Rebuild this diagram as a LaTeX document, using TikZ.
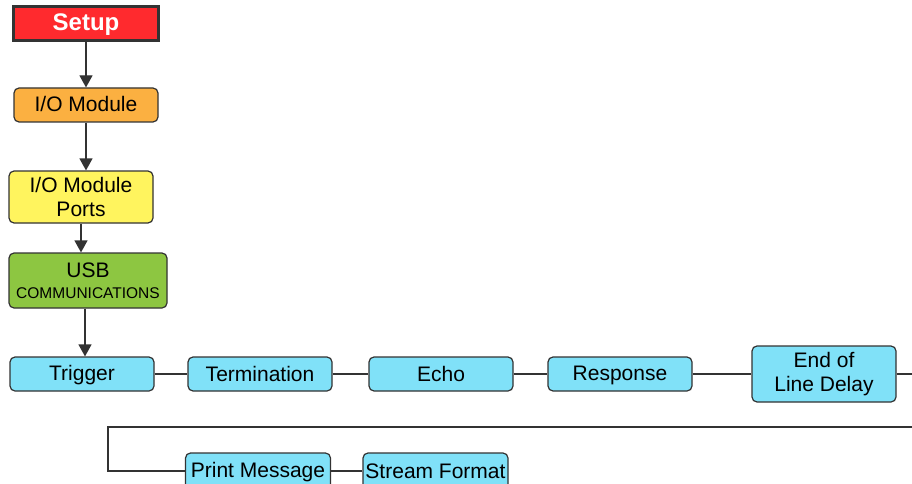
\documentclass[tikz,border=0pt]{standalone}
\usepackage{fontspec}
\setmainfont{Liberation Sans}
\usetikzlibrary{arrows.meta,calc}
\definecolor{cred}{HTML}{FF2A2E}
\definecolor{corange}{HTML}{FBB041}
\definecolor{cyellow}{HTML}{FFF45E}
\definecolor{cgreen}{HTML}{8DC641}
\definecolor{ccyan}{HTML}{80E1F8}
\definecolor{cedge}{HTML}{333333}
\newcommand\bstrut{\rule[-3pt]{0pt}{20pt}}
\tikzset{
  box/.style={draw=cedge, line width=1.2pt, rounded corners=5pt, minimum width=144pt,
    minimum height=34pt, inner sep=0pt, align=center, font=\fontsize{21}{24.5}\selectfont, text=black},
  conn/.style={draw=cedge, line width=1.2pt},
  arr/.style={conn, -{Triangle[length=12pt,width=13pt]}}
}
\begin{document}
\begin{tikzpicture}[x=1pt,y=-1pt]
\useasboundingbox (0,0) rectangle (912,484);
\clip (0,0) rectangle (912,484);
\fill[white] (0,0) rectangle (912,484);
\node[draw=cedge, line width=2.5pt, fill=cred, minimum width=145pt, minimum height=34pt, inner sep=0pt,
  font=\fontsize{24}{27}\selectfont\bfseries, text=white] (setup) at (86,23.5) {\rule[-1pt]{0pt}{20pt}Setup};
\node[box, fill=corange] (iom) at (86,105) {\bstrut I/O Module};
\node[box, fill=cyellow, minimum height=52pt] (ports) at (81,197) {I/O Module\\Ports};
\node[box, fill=cgreen, minimum width=158pt, minimum height=55pt] (usb) at (88,280.5) {USB\\[-4pt]{\fontsize{15.5}{17}\selectfont COMMUNICATIONS}};
\node[box, fill=ccyan] (trig) at (82,374) {\bstrut Trigger};
\node[box, fill=ccyan] (term) at (260,374) {\bstrut Termination};
\node[box, fill=ccyan] (echo) at (441,374) {\bstrut Echo};
\node[box, fill=ccyan] (resp) at (620,374) {\bstrut Response};
\node[box, fill=ccyan, minimum height=56pt] (eol) at (824,374) {End of\\Line Delay};
\node[box, fill=ccyan, minimum width=145pt, minimum height=36pt] (pm) at (258,471) {\bstrut Print Message};
\node[box, fill=ccyan, minimum width=145pt, minimum height=36pt] (sf) at (435.5,471) {\bstrut Stream Format};
\coordinate (eolout) at (914,374);
\coordinate (wrapR) at (914,427);
\coordinate (wrapL) at (108,427);
\draw[arr] (setup.south) -- (setup.south |- iom.north);
\draw[arr] (iom.south) -- (iom.south |- ports.north);
\draw[arr] (ports.south) -- (ports.south |- usb.north);
\draw[arr] (usb.south) ++(-3,0) coordinate (us) -- (us |- trig.north);
\draw[conn] (trig.east) -- (term.west);
\draw[conn] (term.east) -- (echo.west);
\draw[conn] (echo.east) -- (resp.west);
\draw[conn] (resp.east) -- (eol.west);
\draw[conn] (eol.east) -- (eolout);
\draw[conn] (wrapR) -- (wrapL) -- (wrapL |- pm.west) -- (pm.west);
\draw[conn] (pm.east) -- (sf.west);
\end{tikzpicture}
\end{document}
